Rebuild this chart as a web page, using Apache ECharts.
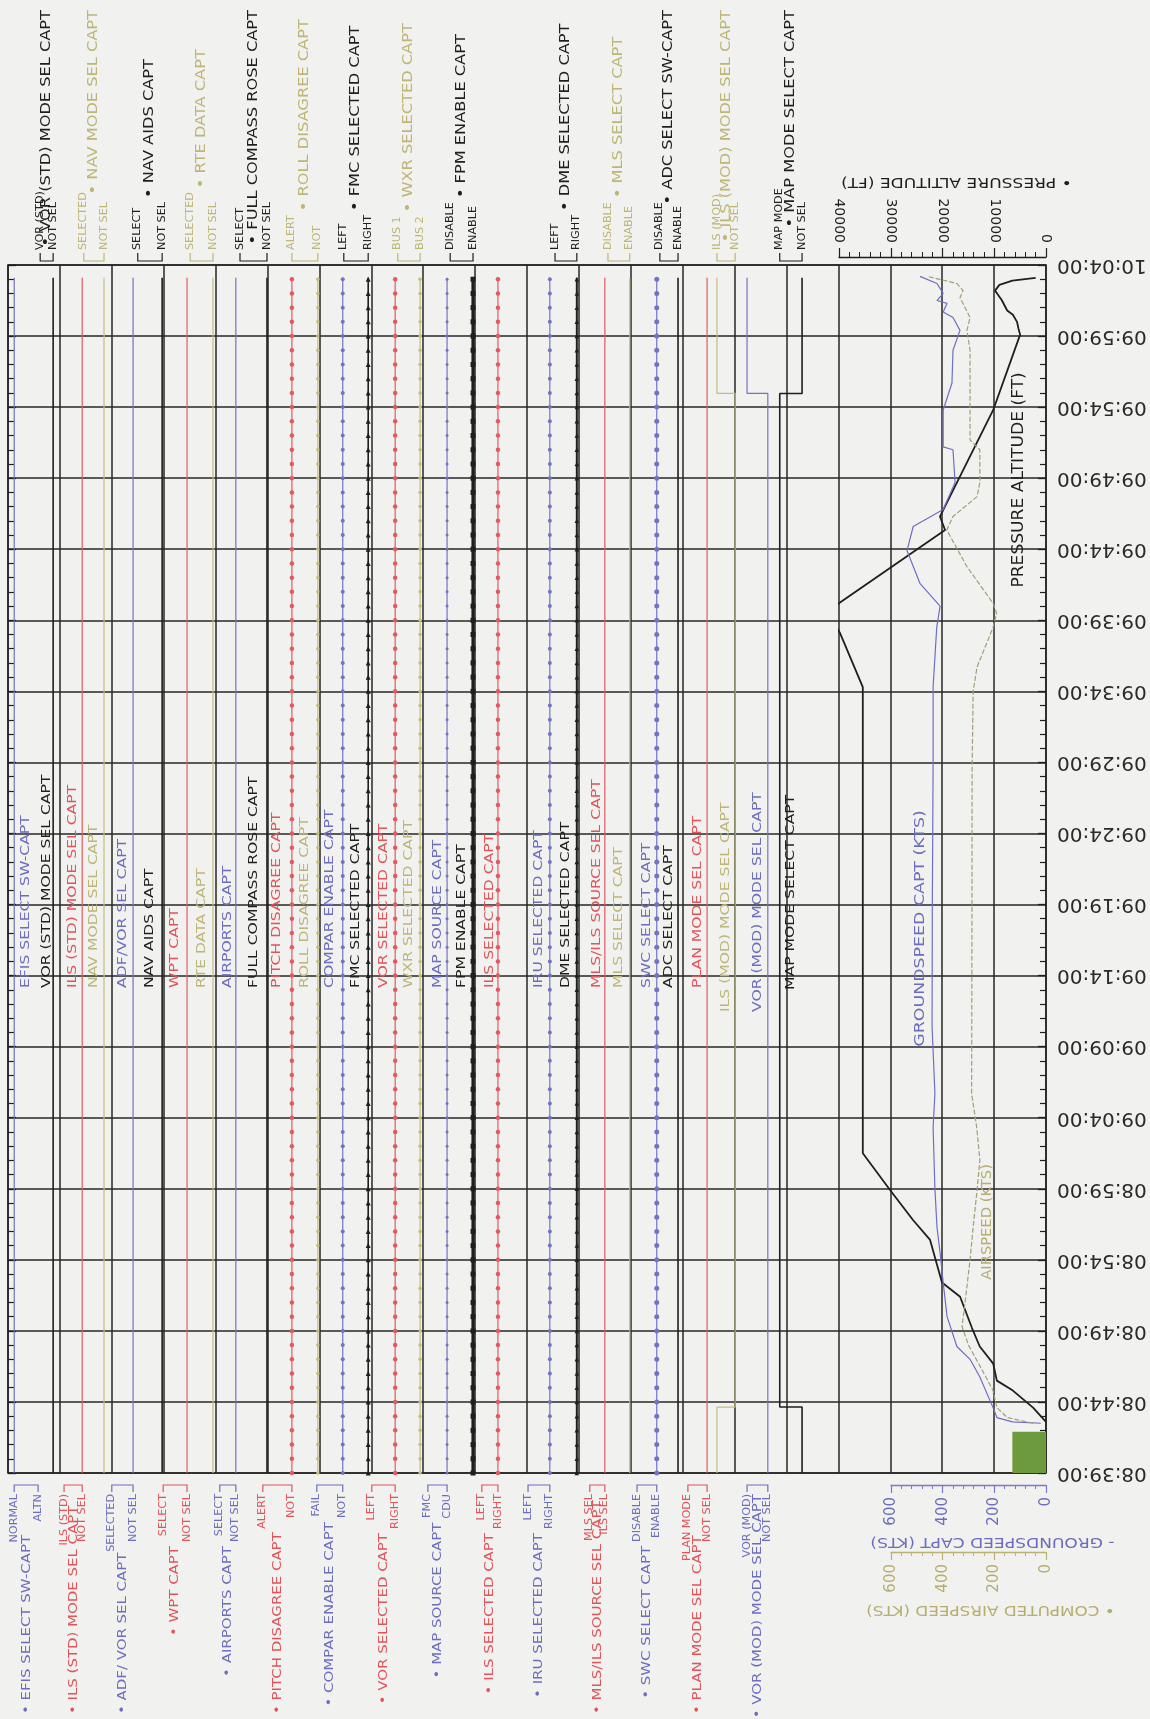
<!DOCTYPE html>
<html>
<head>
<meta charset="utf-8">
<script src="https://cdn.jsdelivr.net/npm/echarts@6.0.0/dist/echarts.min.js"></script>
<style>
html,body{margin:0;padding:0;background:#f1f1ef;}
#chart{width:1150px;height:1719px;}
</style>
</head>
<body>
<div id="chart"></div>
<script>
// ---------------- DATA ----------------
const timeTickLabels = ['08:39:00','08:44:00','08:49:00','08:54:00','08:59:00','09:04:00','09:09:00','09:14:00','09:19:00','09:24:00','09:29:00','09:34:00','09:39:00','09:44:00','09:49:00','09:54:00','09:59:00','10:04:00'];
const timeSpanMin = 85;       // minutes from 08:39:00 to 10:04:00
const trackEndMin = 84.1;     // last recorded sample

const laneSides = ['B','T','B','T','B','T','B','T','B','T','B','T','B','T','B','T','B','T','B','B','T','B','T','B','T','B','T','B','T'];
const laneNames = ['EFIS SELECT SW-CAPT','VOR (STD) MODE SEL CAPT','ILS (STD) MODE SEL CAPT','NAV MODE SEL CAPT','ADF/ VOR SEL CAPT','NAV AIDS CAPT','WPT CAPT','RTE DATA CAPT','AIRPORTS CAPT','FULL COMPASS ROSE CAPT','PITCH DISAGREE CAPT','ROLL DISAGREE CAPT','COMPAR ENABLE CAPT','FMC SELECTED CAPT','VOR SELECTED CAPT','WXR SELECTED CAPT','MAP SOURCE CAPT','FPM ENABLE CAPT','ILS SELECTED CAPT','IRU SELECTED CAPT','DME SELECTED CAPT','MLS/ILS SOURCE SEL CAPT','MLS SELECT CAPT','SWC SELECT CAPT','ADC SELECT SW-CAPT','PLAN MODE SEL CAPT','ILS (MOD) MODE SEL CAPT','VOR (MOD) MODE SEL CAPT','MAP MODE SELECT CAPT'];
const laneInNames = ['EFIS SELECT SW-CAPT','VOR (STD) MODE SEL CAPT','ILS (STD) MODE SEL CAPT','NAV MODE SEL CAPT','ADF/VOR SEL CAPT','NAV AIDS CAPT','WPT CAPT','RTE DATA CAPT','AIRPORTS CAPT','FULL COMPASS ROSE CAPT','PITCH DISAGREE CAPT','ROLL DISAGREE CAPT','COMPAR ENABLE CAPT','FMC SELECTED CAPT','VOR SELECTED CAPT','WXR SELECTED CAPT','MAP SOURCE CAPT','FPM ENABLE CAPT','ILS SELECTED CAPT','IRU SELECTED CAPT','DME SELECTED CAPT','MLS/ILS SOURCE SEL CAPT','MLS SELECT CAPT','SWC SELECT CAPT','ADC SELECT CAPT','PLAN MODE SEL CAPT','ILS (MOD) MODE SEL CAPT','VOR (MOD) MODE SEL CAPT','MAP MODE SELECT CAPT'];
const laneStatesA = ['NORMAL','VOR (STD)','ILS (STD)','SELECTED','SELECTED','SELECT','SELECT','SELECTED','SELECT','SELECT','ALERT','ALERT','FAIL','LEFT','LEFT','BUS 1','FMC','DISABLE','LEFT','LEFT','LEFT','MLS SEL','DISABLE','DISABLE','DISABLE','PLAN MODE','ILS (MOD)','VOR (MOD)','MAP MODE'];
const laneStatesB = ['ALTN','NOT SEL','NOT SEL','NOT SEL','NOT SEL','NOT SEL','NOT SEL','NOT SEL','NOT SEL','NOT SEL','NOT','NOT','NOT','RIGHT','RIGHT','BUS 2','CDU','ENABLE','RIGHT','RIGHT','RIGHT','ILS SEL','ENABLE','ENABLE','ENABLE','NOT SEL','NOT SEL','NOT SEL','NOT SEL'];
// state changes per lane: [startMinute, state] ; state 0 = upper label, 1 = lower label
const laneStateChanges = [
  [[0,0]],[[0,1]],[[0,1]],[[0,1]],[[0,1]],[[0,1]],[[0,1]],[[0,1]],[[0,1]],[[0,1]],
  [[0,1]],[[0,1]],[[0,1]],[[0,1]],[[0,1]],[[0,1]],[[0,1]],[[0,1]],[[0,1]],[[0,1]],
  [[0,1]],[[0,1]],[[0,1]],[[0,1]],[[0,1]],[[0,1]],
  [[0,0],[4.64,1],[75.96,0]],
  [[0,1],[75.96,0]],
  [[0,1],[4.64,0],[75.96,1]]
];

// [minute after 08:39:00, value]
const altitudeFt = [[3.6,0],[4.6,2500],[5.8,6400],[6.5,9500],[7.7,10200],[8.9,12800],[10.2,14300],[12.4,16600],[13.4,20100],[16.4,22400],[17.8,25700],[19.9,30100],[22.5,35400],[55.3,35400],[59.1,39800],[59.7,40800],[61.1,40400],[66.35,19500],[67.3,20500],[74.8,10200],[80.1,5000],[80.5,5300],[81.0,5600],[81.5,6400],[81.8,7500],[82.5,8500],[83.2,9850],[83.6,9000],[83.9,6500],[84.1,2000]];
const groundspeedKts = [[3.5,20],[3.6,130],[3.9,190],[4.6,205],[6.75,256],[8.0,294],[8.9,345],[11.0,383],[13.4,398],[15.5,410],[17.3,422],[20.0,430],[24.3,437],[26.7,430],[31.4,441],[40.0,440],[50.0,437],[55.3,437],[59.5,423],[61.0,410],[62.6,488],[64.9,538],[66.6,514],[67.8,398],[69.7,352],[72.0,360],[72.2,398],[74.8,398],[76.7,364],[79.0,360],[80.4,333],[81.3,360],[81.7,398],[82.3,383],[82.5,422],[83.0,398],[83.7,422],[84.2,488]];
const airspeedKts = [[3.5,50],[3.9,150],[4.6,190],[5.8,205],[7.0,240],[8.0,270],[9.0,300],[10.3,325],[12.5,310],[15.0,294],[17.3,282],[19.7,268],[22.0,256],[24.3,268],[26.7,288],[35.0,287],[49.5,286],[55.0,282],[56.7,267],[59.5,205],[60.5,191],[61.2,205],[63.8,307],[66.35,384],[67.3,360],[68.7,267],[69.7,256],[72.0,256],[72.7,294],[79.0,294],[80.4,306],[81.3,294],[82.7,333],[83.2,321],[83.7,345],[84.2,460]];
const greenBlockAltFt = 6500;
const greenBlockEndMin = 2.9;

// ---------------- LAYOUT / STYLE ----------------
const BG = '#f1f1ef';
const INK = '#1f1f1f';
const COL = {black:'#1f1f1f', red:'#e25a60', blue:'#7373c2', olive:'#c4bd7c'};
const TXT = {black:'#1f1f1f', red:'#df555b', blue:'#6d6dbd', olive:'#bdb676'};
const laneColor = ['blue','black','red','olive','blue','black','red','olive','blue','black','red','olive','blue','black','red','olive','blue','black','red','blue','black','red','olive','blue','black','red','olive','blue','black'];
// lane level positions in grid-column units (20 columns across the frame)
const laneX = [[0.12,0.58],[0.62,0.87],[1.08,1.43],[1.46,1.85],[2.00,2.41],[2.50,2.97],[2.99,3.45],[3.51,3.95],[4.08,4.39],[4.47,4.99],[4.91,5.47],[5.47,5.97],[5.95,6.45],[6.47,6.94],[7.01,7.46],[7.51,7.94],[8.09,8.46],[8.52,8.96],[9.13,9.44],[10.02,10.44],[10.54,10.96],[11.21,11.50],[11.56,11.98],[12.12,12.50],[12.56,12.91],[13.10,13.47],[13.66,14.01],[14.24,14.64],[14.87,15.30]];
const laneMarker = {10:['circle',4.5],11:['circle',3.5],12:['circle',4],13:['triangle',5],14:['circle',4.5],15:['circle',3.5],16:['circle',3],17:['rect',5],18:['circle',4.5],19:['circle',4],20:['triangle',4.5],23:['circle',5]};
const laneWidthOverride = {17:3.2, 20:2};
const inLabelStart = {26:1012, 27:1012, 28:990};

const sampleMinutes = [];
for (let m = 0; m <= 84; m++) sampleMinutes.push(m);

function lanePos(i, s){ const L = laneX[i]; return L[0] + s * (L[1] - L[0]); }

const series = [];
laneNames.forEach((nm, i) => {
  const ch = laneStateChanges[i];
  const mk = laneMarker[i];
  const pts = [];
  for (let k = 0; k < ch.length; k++) {
    const ts = ch[k][0], te = (k + 1 < ch.length) ? ch[k + 1][0] : trackEndMin, s = ch[k][1];
    const x = lanePos(i, s);
    pts.push({value:[x, ts], symbol:'none'});
    if (mk) sampleMinutes.forEach(m => { if (m >= ts && m < te) pts.push({value:[x, m]}); });
    pts.push({value:[x, te], symbol:'none'});
  }
  const c = COL[laneColor[i]];
  series.push({
    type:'line', name:nm, xAxisIndex:0, yAxisIndex:0, data:pts,
    symbol: mk ? mk[0] : 'none', symbolSize: mk ? mk[1] : 0, showAllSymbol:true,
    lineStyle:{color:c, width: laneWidthOverride[i] || (laneColor[i]==='black' ? 1.6 : 1.2)},
    itemStyle:{color:c}, silent:true, animation:false, z:3
  });
});

series.push({
  type:'line', name:'PRESSURE ALTITUDE (FT)', xAxisIndex:1, yAxisIndex:2,
  data: altitudeFt.map(p => [p[1], p[0]]), symbol:'none', silent:true, z:4,
  lineStyle:{color:INK, width:1.8},
  markArea:{silent:true, itemStyle:{color:'#6e9a3e', opacity:1},
    data:[[{coord:[greenBlockAltFt, 0]}, {coord:[0, greenBlockEndMin]}]]}
});
series.push({
  type:'line', name:'GROUNDSPEED CAPT (KTS)', xAxisIndex:2, yAxisIndex:3,
  data: groundspeedKts.map(p => [p[1], p[0]]), symbol:'none', silent:true, z:4,
  lineStyle:{color:'#6e6ec4', width:1.2}
});
series.push({
  type:'line', name:'COMPUTED AIRSPEED (KTS)', xAxisIndex:3, yAxisIndex:3,
  data: airspeedKts.map(p => [p[1], p[0]]), symbol:'none', silent:true, z:4,
  lineStyle:{color:'#a39e78', width:1.2, type:[5,2]}
});

const FONT = '"DejaVu Sans", "Liberation Sans", sans-serif';
const gridBox = {top:265, bottom:246, right:104, outerBoundsMode:'none', containLabel:false};
const plainNum = v => String(Math.round(v));
const option = {
  backgroundColor: BG,
  animation: false,
  grid: [
    Object.assign({left:8, show:true, borderColor:INK, borderWidth:1.6, backgroundColor:'transparent'}, gridBox),
    Object.assign({left:839}, gridBox),
    Object.assign({left:891}, gridBox)
  ],
  xAxis: [
    {type:'value', gridIndex:0, min:0, max:20, interval:1, position:'bottom',
      axisLine:{show:false, onZero:false}, axisTick:{show:false}, axisLabel:{show:false},
      splitLine:{show:true, lineStyle:{color:'#262626', width:1.5}}},
    {type:'value', gridIndex:1, min:0, max:40000, interval:10000, inverse:true, position:'top', offset:8,
      axisLine:{show:true, onZero:false, lineStyle:{color:INK, width:1.3}},
      axisTick:{show:true, length:9, lineStyle:{color:INK, width:1.2}},
      minorTick:{show:true, splitNumber:5, length:5, lineStyle:{color:INK, width:1}},
      axisLabel:{rotate:90, fontSize:14, margin:14, color:INK, fontFamily:FONT, showMinLabel:true, showMaxLabel:true, formatter:plainNum},
      splitLine:{show:false}},
    {type:'value', gridIndex:2, min:0, max:600, interval:200, inverse:true, position:'bottom', offset:12,
      axisLine:{show:true, onZero:false, lineStyle:{color:'#7a7ac4', width:1.3}},
      axisTick:{show:true, length:8, lineStyle:{color:'#7a7ac4', width:1.2}},
      minorTick:{show:true, splitNumber:5, length:4, lineStyle:{color:'#7a7ac4', width:1}},
      axisLabel:{rotate:90, fontSize:15, margin:12, color:'#6d6dbd', fontFamily:FONT, showMinLabel:true, showMaxLabel:true, formatter:plainNum},
      splitLine:{show:false}},
    {type:'value', gridIndex:2, min:0, max:600, interval:200, inverse:true, position:'bottom', offset:79,
      axisLine:{show:true, onZero:false, lineStyle:{color:'#b9b274', width:1.3}},
      axisTick:{show:true, length:8, lineStyle:{color:'#b9b274', width:1.2}},
      minorTick:{show:true, splitNumber:5, length:4, lineStyle:{color:'#b9b274', width:1}},
      axisLabel:{rotate:90, fontSize:15, margin:12, color:'#b5ae70', fontFamily:FONT, showMinLabel:true, showMaxLabel:true, formatter:plainNum},
      splitLine:{show:false}}
  ],
  yAxis: [
    {type:'value', gridIndex:0, min:0, max:timeSpanMin, interval:5, position:'right',
      axisLine:{show:false, onZero:false},
      axisTick:{show:true, inside:true, length:8, lineStyle:{color:INK, width:1.3}},
      minorTick:{show:true, splitNumber:5, length:6, lineStyle:{color:INK, width:1.2}},
      axisLabel:{rotate:180, fontSize:20, margin:11, color:'#2a2a2a', fontFamily:FONT,
        showMinLabel:true, showMaxLabel:true, formatter: v => timeTickLabels[Math.round(v / 5)]},
      splitLine:{show:true, lineStyle:{color:'#262626', width:1.5}}},
    {type:'value', gridIndex:0, min:0, max:timeSpanMin, interval:5, position:'left',
      axisLine:{show:false, onZero:false},
      axisTick:{show:true, inside:true, length:8, lineStyle:{color:INK, width:1.3}},
      minorTick:{show:true, splitNumber:5, length:6, lineStyle:{color:INK, width:1.2}},
      axisLabel:{show:false}, splitLine:{show:false}},
    {type:'value', gridIndex:1, min:0, max:timeSpanMin, show:false},
    {type:'value', gridIndex:2, min:0, max:timeSpanMin, show:false}
  ],
  series: series
};

const chart = echarts.init(document.getElementById('chart'), null, {renderer:'canvas', width:1150, height:1719});
chart.setOption(option);

// ---------------- TEXT LABELS (graphic) ----------------
const mctx = document.createElement('canvas').getContext('2d');
function tw(t, font){ mctx.font = font; return mctx.measureText(t).width; }
function txt(t, x, y, font, color, align, scale, rot){
  return {type:'text', x:x, y:y, rotation:rot, scaleX:scale, scaleY:1, silent:true, z:50,
    style:{text:t, x:0, y:0, font:font, fill:color, align:align, textAlign:align, verticalAlign:'middle', textVerticalAlign:'middle'}};
}
function bracket(xa, xb, y, dy, color){
  return {type:'polyline', silent:true, z:50, shape:{points:[[xa, y + dy],[xa, y],[xb, y],[xb, y + dy]]},
    style:{stroke:color, lineWidth:1.2, fill:null}};
}
const px = u => chart.convertToPixel({xAxisIndex:0}, u);
const R90 = Math.PI / 2;
const F_NAME_T = '13.5px ' + FONT, S_NAME_T = 1.2;
const F_NAME_B = '13px ' + FONT, S_NAME_B = 1.15;
const F_STATE = '10px ' + FONT, S_STATE = 1.12;
const F_IN = '12px ' + FONT, S_IN = 1.3;
const TOP_STATE_Y = 250, BOT_STATE_Y = 1494;

const g = [];
laneNames.forEach((nm, i) => {
  const xa = px(laneX[i][0]), xb = px(laneX[i][1]), xm = (xa + xb) / 2;
  const tc = TXT[laneColor[i]];
  const sLen = Math.max(tw(laneStatesA[i], F_STATE), tw(laneStatesB[i], F_STATE)) * S_STATE;
  const nameT = '\u2022 ' + nm;
  if (laneSides[i] === 'T') {
    const nLen = tw(nameT, F_NAME_T) * S_NAME_T;
    g.push(bracket(xa, xb, 261, -8, tc));
    g.push(txt(laneStatesA[i], xa, TOP_STATE_Y, F_STATE, tc, 'left', S_STATE, R90));
    g.push(txt(laneStatesB[i], xb, TOP_STATE_Y, F_STATE, tc, 'left', S_STATE, R90));
    const start = Math.min(TOP_STATE_Y, Math.max(TOP_STATE_Y - sLen - 4, 10 + nLen));
    g.push(txt(nameT, xm, start, F_NAME_T, tc, 'left', S_NAME_T, R90));
  } else {
    const nLen = tw(nameT, F_NAME_B) * S_NAME_B;
    g.push(bracket(xa, xb, 1485, 7, tc));
    g.push(txt(laneStatesA[i], xa, BOT_STATE_Y, F_STATE, tc, 'right', S_STATE, R90));
    g.push(txt(laneStatesB[i], xb, BOT_STATE_Y, F_STATE, tc, 'right', S_STATE, R90));
    const end = Math.max(BOT_STATE_Y, Math.min(BOT_STATE_Y + sLen + 4, 1714 - nLen));
    g.push(txt(nameT, xm, end, F_NAME_B, tc, 'right', S_NAME_B, R90));
  }
  // in-plot trace name
  g.push(txt(laneInNames[i], xm, inLabelStart[i] || 988, F_IN, tc, 'left', S_IN, R90));
});

// curve labels inside the right panel
const p1 = chart.convertToPixel({xAxisIndex:1, yAxisIndex:2}, [5200, 62.3]);
g.push(txt('PRESSURE ALTITUDE (FT)', p1[0], p1[1], '15px ' + FONT, INK, 'left', 1.14, R90));
const p2 = chart.convertToPixel({xAxisIndex:2, yAxisIndex:3}, [488, 30.0]);
g.push(txt('GROUNDSPEED CAPT (KTS)', p2[0], p2[1], '14px ' + FONT, '#6d6dbd', 'left', 1.24, R90));
const p3 = chart.convertToPixel({xAxisIndex:3, yAxisIndex:3}, [228, 13.6]);
g.push(txt('AIRSPEED (KTS)', p3[0], p3[1], '14px ' + FONT, '#b5ae70', 'left', 1.05, R90));

// axis titles (upside down)
const altMid = (chart.convertToPixel({xAxisIndex:1}, 0) + chart.convertToPixel({xAxisIndex:1}, 40000)) / 2;
const spdMid = (chart.convertToPixel({xAxisIndex:2}, 0) + chart.convertToPixel({xAxisIndex:2}, 600)) / 2;
g.push(txt('\u2022 PRESSURE ALTITUDE (FT)', altMid + 14, 182, '14px ' + FONT, INK, 'center', 1.22, Math.PI));
g.push(txt('- GROUNDSPEED CAPT (KTS)', spdMid + 24, 1542, '14px ' + FONT, '#6d6dbd', 'center', 1.22, Math.PI));
g.push(txt('\u2022 COMPUTED AIRSPEED (KTS)', spdMid + 22, 1610, '14px ' + FONT, '#b5ae70', 'center', 1.2, Math.PI));

chart.setOption({graphic: g});
</script>
</body>
</html>
